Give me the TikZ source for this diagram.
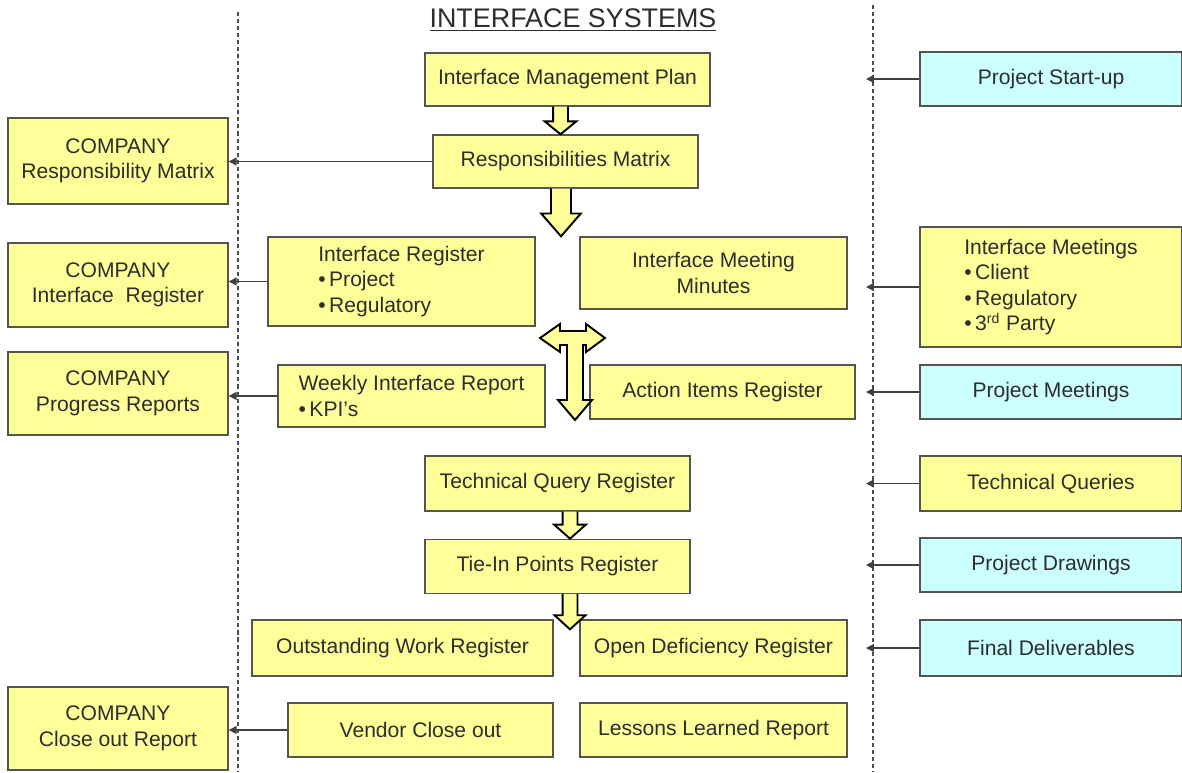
\documentclass[tikz,border=0pt]{standalone}
\usepackage{fontspec}
\setmainfont{Liberation Sans}
\usepackage{tikz}
\usetikzlibrary{
  arrows.meta,
  positioning,
  calc
}
\definecolor{sysyellow}{RGB}{255,255,153}
\definecolor{syscyan}{RGB}{204,255,255}
\definecolor{sysline}{RGB}{85,85,80}
\definecolor{systext}{RGB}{45,45,45}
\newcommand{\sysfont}{\fontsize{12}{14.5}\selectfont}
\tikzset{
  ybox/.style={draw=sysline, line width=0.8pt, fill=sysyellow,
    text=systext, align=center, font=\sysfont, inner sep=2pt},
  cbox/.style={ybox, fill=syscyan},
  arr/.style={-{Triangle[length=4.5pt, width=4.5pt]}, line width=0.8pt, draw=black!75},
  fatarr/.style={draw=black, line width=1.1pt, fill=sysyellow},
  divider/.style={line width=0.7pt, dash pattern=on 2.3pt off 1.7pt, draw=black!70},
}
% hollow down arrow: x, from, to, shaft half width, head half width, head length
\newcommand{\fatdown}[6]{%
  \draw[fatarr] let \p1=(#2), \p2=(#3), \p3=(#1,0) in
    (\x3-#4,\y1) -- (\x3-#4,\y2+#6) -- (\x3-#5,\y2+#6) -- (\x3,\y2)
    -- (\x3+#5,\y2+#6) -- (\x3+#4,\y2+#6) -- (\x3+#4,\y1);
}

\begin{document}
\begin{tikzpicture}[x=0.02cm, y=-0.02cm]
  \useasboundingbox (0,0) rectangle (1182,772);

  % Title
  \node[text=systext, font=\fontsize{15.3}{18}\selectfont] (title) at (573,20)
    {\underline{INTERFACE SYSTEMS}};

  % Column dividers
  \coordinate (ltop) at (238,12);
  \coordinate (lbot) at (238,772);
  \coordinate (rtop) at (873,5);
  \coordinate (rbot) at (873,772);
  \coordinate (rtip) at (866,0);
  \draw[divider] (ltop) -- (lbot);
  \draw[divider] (rtop) -- (rbot);

  % Centre column
  \node[ybox, minimum width=5.7cm, minimum height=1.06cm] (imp) at (567.5,79.5)
    {Interface Management Plan};
  \node[ybox, minimum width=5.3cm, minimum height=1.06cm] (rm) at (565.5,161.5)
    {Responsibilities Matrix};
  \node[ybox, minimum width=5.34cm, minimum height=1.78cm, align=left] (ir) at (401.5,281.5)
    {Interface Register\\ \textbullet\,Project\\ \textbullet\,Regulatory};
  \node[ybox, minimum width=5.34cm, minimum height=1.44cm] (imm) at (713.5,273)
    {Interface Meeting\\ Minutes};
  \node[ybox, minimum width=5.34cm, minimum height=1.24cm, align=left] (wir) at (411.5,396)
    {Weekly Interface Report\\ \textbullet\,KPI's};
  \node[ybox, minimum width=5.3cm, minimum height=1.08cm] (air) at (722.5,392)
    {Action Items Register};
  \node[ybox, minimum width=5.3cm, minimum height=1.1cm] (tqr) at (557.5,483.5)
    {Technical Query Register};
  \node[ybox, minimum width=5.3cm, minimum height=1.08cm, below=0.54cm of tqr] (tir)
    {Tie-In Points Register};
  \node[ybox, minimum width=6.02cm, minimum height=1.12cm] (owr) at (402.5,648)
    {Outstanding Work Register};
  \node[ybox, minimum width=5.34cm, minimum height=1.12cm] (odr) at (713.5,648)
    {Open Deficiency Register};
  \node[ybox, minimum width=5.3cm, minimum height=1.08cm] (vco) at (420.5,730)
    {Vendor Close out};
  \node[ybox, minimum width=5.34cm, minimum height=1.08cm] (llr) at (713.5,730)
    {Lessons Learned Report};

  % Company (left) column
  \node[ybox, minimum width=4.4cm, minimum height=1.72cm] (crm) at (118,161)
    {COMPANY\\ Responsibility Matrix};
  \node[ybox, minimum width=4.4cm, minimum height=1.68cm] (cir) at (118,285)
    {COMPANY\\ Interface\ \ Register};
  \node[ybox, minimum width=4.4cm, minimum height=1.66cm] (cpr) at (118,393.5)
    {COMPANY\\ Progress Reports};
  \node[ybox, minimum width=4.4cm, minimum height=1.66cm] (ccr) at (118,728.5)
    {COMPANY\\ Close out Report};

  % Input (right) column
  \node[cbox, minimum width=5.24cm, minimum height=1.08cm] (start) at (1051,79)
    {Project Start-up};
  \node[ybox, minimum width=5.24cm, minimum height=2.4cm, align=left] (imeet) at (1051,287)
    {Interface Meetings\\ \textbullet\,Client\\ \textbullet\,Regulatory\\ \textbullet\,3\textsuperscript{rd} Party};
  \node[cbox, minimum width=5.24cm, minimum height=1.08cm] (pmeet) at (1051,392)
    {Project Meetings};
  \node[ybox, minimum width=5.24cm, minimum height=1.1cm] (tq) at (1051,483.5)
    {Technical Queries};
  \node[cbox, minimum width=5.24cm, minimum height=1.08cm] (pdwg) at (1051,565)
    {Project Drawings};
  \node[cbox, minimum width=5.24cm, minimum height=1.12cm] (fdel) at (1051,648)
    {Final Deliverables};

  % Outputs to COMPANY
  \draw[arr] (rm.west) -- (crm.east |- rm.west);
  \draw[arr] (ir.west) -- (cir.east |- ir.west);
  \draw[arr] (wir.west) -- (cpr.east |- wir.west);
  \draw[arr] (vco.west) -- (ccr.east |- vco.west);

  % Inputs
  \foreach \src in {start, imeet, pmeet, tq, pdwg, fdel}
    \draw[arr] (\src.west) -- (\src.west -| rtip);

  % Flow arrows
  \fatdown{560.5}{imp.south}{rm.north}{4.25pt}{9pt}{7.4pt}
  \fatdown{561}{rm.south}{imm.north}{5.7pt}{11.3pt}{13pt}
  \fatdown{570}{tqr.south}{tir.north}{4.25pt}{9pt}{8pt}
  \fatdown{570}{tir.south}{$(odr.north)+(0,10)$}{4.25pt}{8.8pt}{8pt}

  % Two-way meeting arrow
  \draw[fatarr] (540,338) -- (560,324) -- (560,331) -- (586,331) -- (586,324)
    -- (605,338) -- (586,352) -- (586,345) -- (583,345) -- (583,400)
    -- (592,400) -- (575,420) -- (558,400) -- (567,400) -- (567,345)
    -- (560,345) -- (560,352) -- cycle;
\end{tikzpicture}
\end{document}
